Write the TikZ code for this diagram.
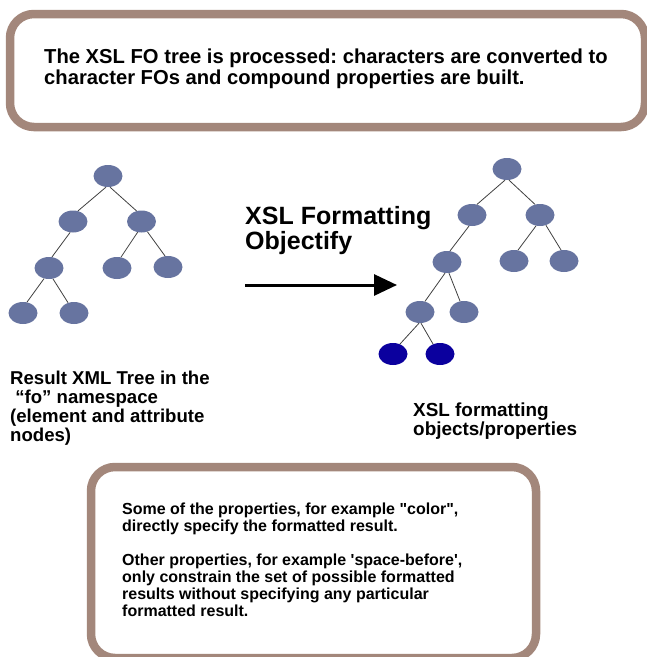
\documentclass[tikz,border=0pt]{standalone}
\usepackage{fontspec}
\setmainfont{Liberation Sans}
\usetikzlibrary{arrows.meta,shapes.geometric}
\definecolor{boxbrown}{HTML}{A3877B}
\definecolor{nodeblue}{HTML}{6774A0}
\definecolor{darkblue}{HTML}{0B009E}
\definecolor{edgegray}{HTML}{404040}
\frenchspacing
\begin{document}
\begin{tikzpicture}[x=1pt,y=-1pt,
  tnode/.style={ellipse,fill=nodeblue,minimum width=29pt,minimum height=22pt,inner sep=0pt},
  dnode/.style={tnode,fill=darkblue},
  tedge/.style={draw=edgegray,line width=0.8pt},
  frame/.style={draw=boxbrown,line width=8.5pt,rounded corners=24pt},
  lbl/.style={inner sep=0pt,anchor=base west}
]
\useasboundingbox (0,0) rectangle (647,657);
\clip (0,0) rectangle (647,657);

% frames
\draw[frame] (10,14) rectangle (645,127);
\draw[frame] (91,467) rectangle (536,658);

% top text
\node[lbl] (toptext) at (44,63) {\fontsize{20.2}{21.5}\selectfont\bfseries
  \begin{tabular}[t]{@{}l@{}}The XSL FO tree is processed: characters are converted to\\
  character FOs and compound properties are built.\end{tabular}};

% left tree
\node[tnode] (a0) at (108,176) {};
\node[tnode] (a1) at (73,221.5) {};
\node[tnode] (a2) at (141.5,221.5) {};
\node[tnode] (a3) at (49,268) {};
\node[tnode] (a4) at (117,268) {};
\node[tnode] (a5) at (168,267) {};
\node[tnode] (a6) at (23,313) {};
\node[tnode] (a7) at (74,313) {};
\draw[tedge] (a0.-100) -- (a1.65);
\draw[tedge] (a0.-80) -- (a2.115);
\draw[tedge] (a1.-105) -- (a3.75);
\draw[tedge] (a2.-110) -- (a4.70);
\draw[tedge] (a2.-60) -- (a5.105);
\draw[tedge] (a3.-115) -- (a6.70);
\draw[tedge] (a3.-70) -- (a7.120);

% right tree
\node[tnode] (b0) at (507,169) {};
\node[tnode] (b1) at (472,215) {};
\node[tnode] (b2) at (540,215) {};
\node[tnode] (b3) at (447,262) {};
\node[tnode] (b4) at (514,261) {};
\node[tnode] (b5) at (564,261) {};
\node[tnode] (b6) at (420,312) {};
\node[tnode] (b7) at (464,312) {};
\node[dnode] (b8) at (393,354) {};
\node[dnode] (b9) at (440,354) {};
\draw[tedge] (b0.-100) -- (b1.65);
\draw[tedge] (b0.-80) -- (b2.115);
\draw[tedge] (b1.-105) -- (b3.75);
\draw[tedge] (b2.-110) -- (b4.70);
\draw[tedge] (b2.-60) -- (b5.105);
\draw[tedge] (b3.-100) -- (b6.65);
\draw[tedge] (b3.-80) -- (b7.110);
\draw[tedge] (b6.-95) -- (b8.55);
\draw[tedge] (b6.-85) -- (b9.125);

% title and arrow
\node[lbl] (title) at (245,224.5) {\fontsize{25}{24}\selectfont\bfseries
  \begin{tabular}[t]{@{}l@{}}XSL Formatting\\Objectify\end{tabular}};
\coordinate (arrs) at (245,285);
\coordinate (arre) at (397,285);
\draw[line width=3pt,-{Triangle[length=23pt,width=21pt]}] (arrs) -- (arre);

% labels
\node[lbl] (leftlbl) at (10,384) {\fontsize{18.6}{18.5}\selectfont\bfseries
  \begin{tabular}[t]{@{}l@{}}Result XML Tree in the\\\ “fo” namespace\\(element and attribute\\nodes)\end{tabular}};
\node[lbl] (rightlbl) at (413,416) {\fontsize{18.9}{19}\selectfont\bfseries
  \begin{tabular}[t]{@{}l@{}}XSL formatting\\objects/properties\end{tabular}};

% bottom text
\node[lbl] (bottext) at (122,514.5) {\fontsize{16}{17}\selectfont\bfseries
  \begin{tabular}[t]{@{}l@{}}Some of the properties, for example \textquotedbl color\textquotedbl,\\
  directly specify the formatted result.\\ \\
  Other properties, for example \textquotesingle space-before\textquotesingle,\\
  only constrain the set of possible formatted\\
  results without specifying any particular\\
  formatted result.\end{tabular}};
\end{tikzpicture}
\end{document}
